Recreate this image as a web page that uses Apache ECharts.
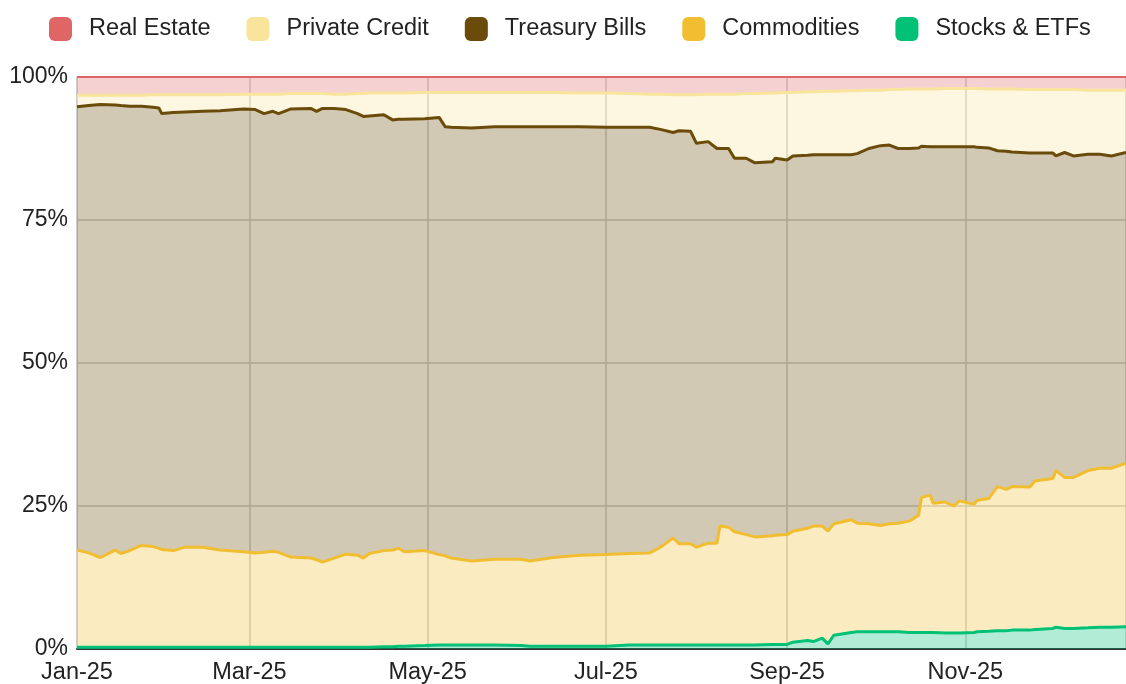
<!DOCTYPE html>
<html>
<head>
<meta charset="utf-8">
<script src="https://cdn.jsdelivr.net/npm/echarts@6/dist/echarts.min.js"></script>
<style>
  html, body { margin: 0; padding: 0; background: #ffffff; }
  #chart { width: 1126px; height: 684px; }
</style>
</head>
<body>
<div id="chart"></div>
<script>
// Daily portfolio mix, share of total (%)
const dates = [
  '2025-01-01','2025-01-05','2025-01-09','2025-01-14','2025-01-16','2025-01-19','2025-01-23','2025-01-27','2025-01-29','2025-01-30',
  '2025-02-03','2025-02-07','2025-02-13','2025-02-19','2025-02-27','2025-03-03','2025-03-06','2025-03-09','2025-03-11','2025-03-15',
  '2025-03-22','2025-03-24','2025-03-26','2025-03-30','2025-04-03','2025-04-07','2025-04-09','2025-04-11','2025-04-16','2025-04-19',
  '2025-04-21','2025-04-23','2025-04-30','2025-05-05','2025-05-07','2025-05-09','2025-05-16','2025-05-24','2025-06-02','2025-06-05',
  '2025-06-13','2025-06-22','2025-07-01','2025-07-09','2025-07-16','2025-07-20','2025-07-24','2025-07-26','2025-07-30','2025-08-01',
  '2025-08-05','2025-08-08','2025-08-09','2025-08-12','2025-08-14','2025-08-18','2025-08-21','2025-08-27','2025-08-28','2025-09-01',
  '2025-09-03','2025-09-08','2025-09-10','2025-09-13','2025-09-15','2025-09-17','2025-09-23','2025-09-25','2025-09-29','2025-10-03',
  '2025-10-06','2025-10-09','2025-10-13','2025-10-16','2025-10-17','2025-10-20','2025-10-21','2025-10-25','2025-10-28','2025-10-30',
  '2025-11-04','2025-11-05','2025-11-09','2025-11-12','2025-11-15','2025-11-17','2025-11-23','2025-11-25','2025-12-01','2025-12-02',
  '2025-12-05','2025-12-08','2025-12-13','2025-12-17','2025-12-21','2025-12-26'
];

const stocksEtfs = [
  0.3,0.3,0.3,0.3,0.3,0.3,0.3,0.3,0.3,0.3,
  0.3,0.3,0.3,0.3,0.3,0.3,0.3,0.3,0.3,0.3,
  0.3,0.3,0.3,0.3,0.3,0.3,0.3,0.3,0.4,0.4,
  0.5,0.5,0.6,0.7,0.7,0.7,0.7,0.7,0.6,0.5,
  0.5,0.5,0.5,0.7,0.7,0.7,0.7,0.7,0.7,0.7,
  0.7,0.7,0.7,0.7,0.7,0.7,0.7,0.8,0.8,0.8,
  1.2,1.5,1.3,1.9,0.9,2.4,2.9,3.0,3.0,3.0,
  3.0,3.0,2.9,2.9,2.9,2.9,2.9,2.8,2.8,2.8,
  2.9,3.0,3.1,3.2,3.2,3.3,3.3,3.4,3.6,3.8,
  3.6,3.6,3.7,3.8,3.8,3.9
];

const commodities = [
  17.0,16.5,15.7,17.0,16.4,16.9,17.8,17.6,17.3,17.1,
  16.9,17.5,17.5,17.0,16.7,16.5,16.6,16.8,16.6,15.8,
  15.6,15.3,14.9,15.6,16.3,16.1,15.6,16.4,16.8,16.9,
  17.1,16.5,16.6,15.8,15.6,15.2,14.7,15.0,15.1,14.9,
  15.5,15.9,16.0,16.0,16.1,17.2,18.7,17.7,17.7,17.1,
  17.8,17.8,20.8,20.6,19.8,19.3,18.9,19.0,19.1,19.2,
  19.4,19.6,20.2,19.6,19.7,19.5,19.7,19.0,18.9,18.6,
  18.9,19.0,19.5,20.5,23.6,24.0,22.6,22.9,22.2,23.1,
  22.4,23.0,23.2,25.2,24.7,25.1,25.0,26.0,26.2,27.4,
  26.4,26.4,27.5,27.8,27.8,28.6
];

const treasuryBills = [
  77.5,78.2,79.2,77.8,78.3,77.7,76.8,76.8,77.0,76.2,
  76.6,76.1,76.2,76.8,77.4,77.5,76.7,76.9,76.7,78.3,
  78.6,78.4,79.3,78.6,77.7,77.2,77.2,76.5,76.2,75.2,
  75.0,75.6,75.5,76.4,75.0,75.3,75.7,75.6,75.6,75.9,
  75.3,74.9,74.7,74.5,74.4,72.9,70.9,72.2,72.1,70.6,
  70.2,69.0,66.0,66.2,65.3,65.8,65.4,65.4,65.9,65.5,
  65.6,65.2,64.9,64.9,65.8,64.5,63.8,64.6,65.6,66.4,
  66.2,65.5,65.1,64.2,61.4,60.9,62.3,62.1,62.8,61.9,
  62.5,61.7,61.3,58.7,59.1,58.5,58.4,57.3,56.9,55.0,
  56.8,56.2,55.3,54.9,54.6,54.3
];

const privateCredit = [
  2.0,1.8,1.6,1.7,1.8,1.9,1.9,2.2,2.3,3.3,
  3.1,3.0,2.9,2.8,2.6,2.7,3.4,3.0,3.4,2.7,
  2.6,3.1,2.6,2.5,2.7,3.5,4.0,4.0,3.8,4.7,
  4.6,4.6,4.6,4.4,6.0,6.1,6.2,6.0,6.0,6.0,
  6.0,5.9,6.0,5.9,5.8,6.2,6.6,6.3,6.4,8.5,
  8.3,9.5,9.5,9.5,11.2,11.3,12.1,12.0,11.4,11.8,
  11.1,11.1,11.0,11.1,11.1,11.1,11.2,11.0,10.2,9.7,
  9.7,10.3,10.4,10.3,10.0,10.1,10.1,10.2,10.2,10.2,
  10.2,10.3,10.3,10.8,10.9,11.0,11.1,11.1,11.1,11.6,
  11.0,11.6,11.2,11.2,11.5,10.9
];

const realEstate = [
  3.2,3.2,3.2,3.2,3.2,3.2,3.2,3.1,3.1,3.1,
  3.1,3.1,3.1,3.1,3.0,3.0,3.0,3.0,3.0,2.9,
  2.9,2.9,2.9,3.0,3.0,2.9,2.9,2.8,2.8,2.8,
  2.8,2.8,2.7,2.7,2.7,2.7,2.7,2.7,2.7,2.7,
  2.7,2.8,2.8,2.9,3.0,3.0,3.1,3.1,3.1,3.1,
  3.0,3.0,3.0,3.0,3.0,2.9,2.9,2.8,2.8,2.7,
  2.7,2.6,2.6,2.5,2.5,2.5,2.4,2.4,2.3,2.3,
  2.2,2.2,2.1,2.1,2.1,2.1,2.1,2.0,2.0,2.0,
  2.0,2.0,2.1,2.1,2.1,2.1,2.2,2.2,2.2,2.2,
  2.2,2.2,2.3,2.3,2.3,2.3
];

const legendOrder = ['Real Estate', 'Private Credit', 'Treasury Bills', 'Commodities', 'Stocks & ETFs'];
const monthNames = ['Jan','Feb','Mar','Apr','May','Jun','Jul','Aug','Sep','Oct','Nov','Dec'];
const yTicks = [0, 25, 50, 75, 100];

const FONT = '"Liberation Sans", Arial, Helvetica, sans-serif';

function shareSeries(name, values, color, lineColor, lineWidth) {
  return {
    name: name,
    type: 'line',
    stack: 'share',
    symbol: 'none',
    showSymbol: false,
    data: dates.map((d, i) => [d, values[i]]),
    itemStyle: { color: color },
    lineStyle: { color: lineColor, width: lineWidth },
    areaStyle: { color: color, opacity: 0.3 },
    emphasis: { disabled: true }
  };
}

const chart = echarts.init(document.getElementById('chart'), null, { renderer: 'canvas' });

chart.setOption({
  animation: false,
  textStyle: { fontFamily: FONT },
  legend: {
    data: legendOrder,
    top: 17,
    left: 49,
    padding: 0,
    itemWidth: 23,
    itemHeight: 24,
    itemGap: 36,
    icon: 'roundRect',
    selectedMode: false,
    textStyle: { fontSize: 23.5, color: '#222222', fontFamily: FONT, padding: [0, 0, 0, 12] }
  },
  grid: { left: 77, right: 0, top: 77, bottom: 35, containLabel: false, outerBoundsMode: 'none' },
  xAxis: {
    type: 'time',
    min: dates[0],
    max: dates[dates.length - 1],
    splitNumber: 5,
    axisLine: { show: true, lineStyle: { color: '#333333', width: 2 } },
    axisTick: { show: false },
    axisLabel: {
      fontSize: 23.5,
      color: '#222222',
      fontFamily: FONT,
      margin: 12,
      hideOverlap: false,
      formatter: function (v) {
        const d = new Date(v);
        return monthNames[d.getMonth()] + '-' + String(d.getFullYear()).slice(2);
      }
    },
    splitLine: { show: true, lineStyle: { color: '#cccccc', width: 1.5 } }
  },
  yAxis: {
    type: 'value',
    min: yTicks[0],
    max: yTicks[yTicks.length - 1],
    interval: 25,
    axisLine: { show: false },
    axisTick: { show: false },
    axisLabel: {
      fontSize: 23,
      color: '#222222',
      fontFamily: FONT,
      margin: 9,
      padding: [3, 0, 0, 0],
      formatter: '{value}%'
    },
    splitLine: { show: true, lineStyle: { color: '#cccccc', width: 1.5 } }
  },
  series: [
    shareSeries('Stocks & ETFs', stocksEtfs, '#00c176', '#00c176', 3),
    shareSeries('Commodities', commodities, '#f1be32', '#f1be32', 3),
    shareSeries('Treasury Bills', treasuryBills, '#6b4b0a', '#6b4b0a', 3),
    shareSeries('Private Credit', privateCredit, '#f9e49b', '#f9e49b', 3),
    shareSeries('Real Estate', realEstate, '#e06666', '#e06666', 2)
  ]
});
</script>
</body>
</html>
